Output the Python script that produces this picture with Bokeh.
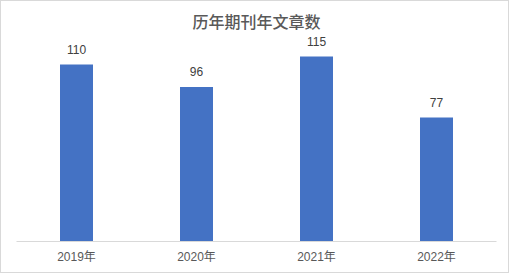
from bokeh.plotting import figure
from bokeh.models import ColumnDataSource, Label, FactorRange, Range1d
from bokeh.embed import file_html
from bokeh.resources import INLINE

categories = ["2019年", "2020年", "2021年", "2022年"]
values = [110, 96, 115, 77]
value_labels = [str(v) for v in values]
title_text = "历年期刊年文章数"

src = ColumnDataSource(dict(x=categories, y=values, t=value_labels))

W, H = 509, 273
Y_MAX = 149.1
p = figure(width=W, height=H, x_range=FactorRange(*categories), y_range=Range1d(0, Y_MAX),
           output_backend="svg", toolbar_location=None,
           min_border_left=15, min_border_right=14, min_border_top=0, min_border_bottom=33)
p.styles = {"border": "1px solid #d9d9d9"}
p.outline_line_color = None
p.background_fill_color = "white"
p.border_fill_color = "white"
p.xgrid.visible = False
p.ygrid.visible = False
p.yaxis.visible = False

p.vbar(x="x", top="y", width=0.275, source=src, fill_color="#4472C4", line_color=None)
p.text(x="x", y="y", text="t", source=src, y_offset=-15, text_align="center",
       text_baseline="middle", text_font_size="12px", text_color="#404040",
       text_font={"value": "Liberation Sans"})

xa = p.xaxis[0]
xa.axis_line_color = "#d9d9d9"
xa.axis_line_width = 1
xa.major_tick_line_color = None
xa.minor_tick_line_color = None
xa.major_tick_out = 0
xa.major_tick_in = 0
xa.major_label_standoff = 8
xa.major_label_text_font_size = "12px"
xa.major_label_text_color = "#595959"
xa.major_label_text_font = "Liberation Sans, Noto Sans CJK SC"

# title placed at the horizontal centre of the category axis, near the top
title = Label(x=len(categories) / 2, y=Y_MAX * 0.917, text=title_text,
              text_align="center", text_baseline="middle", text_font_size="16px",
              text_font="'Noto Sans CJK SC Medium', 'Noto Sans CJK SC'",
              text_font_style="normal", text_color="#595959")
p.add_layout(title)

open("out.html", "w").write(file_html(p, INLINE))
